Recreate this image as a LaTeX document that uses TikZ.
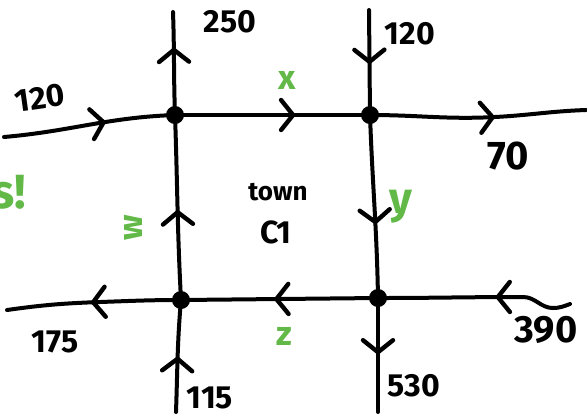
\documentclass[tikz,border=0pt]{standalone}
\usepackage{fontspec}
\setmainfont{Fira Sans}
\usetikzlibrary{arrows.meta,decorations.markings}
\definecolor{hgreen}{RGB}{98,185,72}
\tikzset{
  road/.style={line width=2pt, line cap=round, line join=round},
  chev/.style={postaction={decorate, decoration={markings,
      mark=at position #1 with {\arrow[line width=2.2pt]{Straight Barb[length=6pt,width=15pt,line cap=round]}}}}},
  dot/.style={circle, fill=black, inner sep=0pt, minimum size=9pt},
  lbl/.style={font=\fontsize{16}{18}\selectfont\bfseries, text=black},
  glbl/.style={font=\fontsize{17}{19}\selectfont\bfseries, text=hgreen},
}
\begin{document}
\begin{tikzpicture}[x=0.5pt, y=-0.5pt]
\useasboundingbox (0,0) rectangle (587,414);
% junctions
\node[dot] (A) at (175,115) {};
\node[dot] (B) at (370,115) {};
\node[dot] (C) at (181,300) {};
\node[dot] (D) at (378,298) {};
% free ends
\coordinate (L1) at (4,137);
\coordinate (T1) at (173,12);
\coordinate (T2) at (369,10);
\coordinate (R1) at (586,110);
\coordinate (L2) at (7,310);
\coordinate (R2) at (570,304);
\coordinate (B1) at (176,412);
\coordinate (B2) at (378,412);
% roads
\draw[road, chev=0.6] (L1) to[out=5,in=182] (A.center);
\draw[road, chev=0.66] (A.center) to[out=92,in=-88] (T1);
\draw[road, chev=0.62] (A.center) -- (B.center);
\draw[road, chev=0.52] (T2) -- (B.center);
\draw[road, chev=0.58] (B.center) to[out=0,in=183] (495,117) to[out=3,in=182] (R1);
\draw[road, chev=0.49] (C.center) to[out=93,in=-88] (A.center);
\draw[road, chev=0.6] (B.center) to[out=-88,in=91] (D.center);
\draw[road, chev=0.53] (D.center) -- (C.center);
\draw[road, chev=0.52] (C.center) to[out=180,in=2] (100,302) to[out=182,in=8] (L2);
\draw[road, chev=0.4] (R2) to[out=200,in=0] (553,308) to[out=180,in=0] (523,297) to[out=180,in=0] (D.center);
\draw[road, chev=0.5] (B1) to[out=88,in=-95] (C.center);
\draw[road, chev=0.5] (D.center) -- (B2);
% black labels
\node[lbl] (n250) at (230,22) {250};
\node[lbl] (n120a) at (410,34) {120};
\node[lbl, rotate=8] (n120b) at (40,98) {120};
\node[lbl, font=\fontsize{20}{22}\selectfont\bfseries] (n70) at (508,156) {70};
\node[lbl] (n175) at (55,342) {175};
\node[lbl] (n115) at (210,398) {115};
\node[lbl] (n530) at (414,386) {530};
\node[lbl, font=\fontsize{19}{21}\selectfont\bfseries] (n390) at (546,330) {390};
\node[lbl, font=\fontsize{13}{15}\selectfont\bfseries] (town) at (278,192) {town};
\node[lbl] (c1) at (276,232) {C1};
% green labels
\node[glbl] (x) at (287,80) {x};
\node[glbl, font=\fontsize{22}{24}\selectfont\bfseries] (y) at (401,207) {y};
\node[glbl, rotate=90] (w) at (133,228) {w};
\node[glbl] (z) at (284,336) {z};
\node[glbl, anchor=east, font=\fontsize{24}{26}\selectfont\bfseries] (s) at (33,192) {s!};
\end{tikzpicture}
\end{document}
